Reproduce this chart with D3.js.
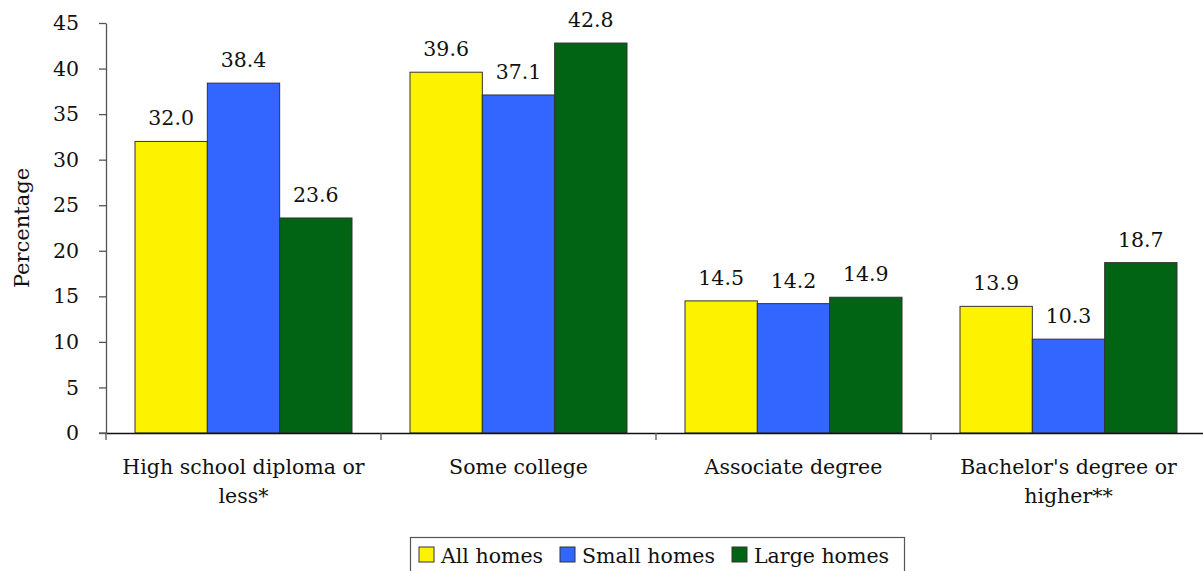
<!DOCTYPE html>
<html><head><meta charset="utf-8">
<script src="https://cdn.jsdelivr.net/npm/d3@7"></script>
<style>body{margin:0;background:#fff}svg{display:block}text{font-family:"DejaVu Serif",Georgia,serif;fill:#111}</style>
</head><body><svg id="c" width="1203" height="571"></svg>
<script>
const categories = [["High school diploma or","less*"],["Some college"],["Associate degree"],["Bachelor's degree or","higher**"]];
const seriesNames = ["All homes","Small homes","Large homes"];
const allHomes = [32.0, 39.6, 14.5, 13.9];
const smallHomes = [38.4, 37.1, 14.2, 10.3];
const largeHomes = [23.6, 42.8, 14.9, 18.7];
const yTicks = [0,5,10,15,20,25,30,35,40,45];
const colors = ["#FDF200","#3366FF","#006414"];

const series = [allHomes, smallHomes, largeHomes];
const svg = d3.select("#c");
const x0 = 106, plotW = 1100, yTop = 23, yBot = 433;
const FS = 20.5;
const x = d3.scaleBand().domain(d3.range(categories.length)).range([x0, x0+plotW]).padding(0);
const xs = d3.scaleBand().domain(d3.range(series.length)).range([29, x.bandwidth()-29]).padding(0);
const y = d3.scaleLinear().domain([0,45]).range([yBot, yTop]);

// y axis
const ya = svg.append("g").attr("transform",`translate(${x0},0)`)
  .call(d3.axisLeft(y).tickValues(yTicks).tickSize(7).tickSizeOuter(0).tickPadding(20));
ya.select(".domain").attr("stroke","#555").attr("stroke-width",1.3);
ya.selectAll(".tick line").attr("stroke","#555").attr("stroke-width",1.3);
ya.selectAll("text").attr("font-size",FS).attr("font-family","DejaVu Serif").attr("fill","#111");

// bars
categories.forEach((c,i)=>{
  series.forEach((s,j)=>{
    const bx = x(i)+xs(j);
    svg.append("rect").attr("x",bx).attr("y",y(s[i])).attr("width",xs.bandwidth()).attr("height",yBot-y(s[i]))
      .attr("fill",colors[j]).attr("stroke","#333").attr("stroke-width",1);
    svg.append("text").attr("x",bx+xs.bandwidth()/2).attr("y",y(s[i])-16).attr("text-anchor","middle")
      .attr("font-size",FS).text(s[i].toFixed(1));
  });
});

// x axis
const xa = svg.append("g").attr("transform",`translate(0,${yBot})`)
  .call(d3.axisBottom(x).tickValues([]).tickSizeOuter(0));
xa.select(".domain").attr("stroke","#111").attr("stroke-width",1.3);
svg.append("line").attr("x1",x0-7).attr("x2",x0).attr("y1",yBot).attr("y2",yBot).attr("stroke","#555").attr("stroke-width",1.3);
categories.forEach((c,i)=>{
  svg.append("line").attr("x1",x(i)).attr("x2",x(i)).attr("y1",yBot).attr("y2",yBot+7).attr("stroke","#555").attr("stroke-width",1.3);
  const t = svg.append("text").attr("text-anchor","middle").attr("font-size",FS);
  c.forEach((line,k)=>t.append("tspan").attr("x",x(i)+x.bandwidth()/2).attr("y",474+k*29).text(line));
});

// y label
svg.append("text").attr("transform","translate(29,228) rotate(-90)").attr("text-anchor","middle").attr("font-size",21).text("Percentage");

// legend
const lg = svg.append("g");
lg.append("rect").attr("x",410.5).attr("y",537.5).attr("width",494).attr("height",40).attr("fill","#fff").attr("stroke","#555").attr("stroke-width",1.2);
const lx = [419, 560, 732];
seriesNames.forEach((n,j)=>{
  lg.append("rect").attr("x",lx[j]).attr("y",547).attr("width",15).attr("height",15).attr("fill",colors[j]).attr("stroke","#333");
  lg.append("text").attr("x",lx[j]+22).attr("y",563).attr("font-size",FS).text(n);
});
</script></body></html>
